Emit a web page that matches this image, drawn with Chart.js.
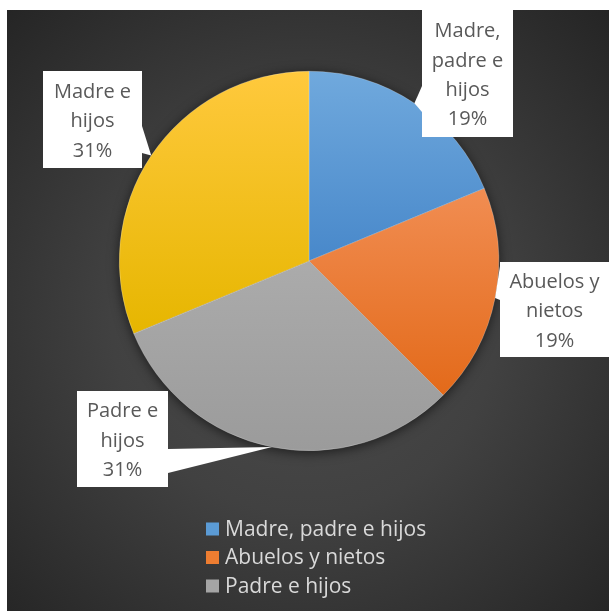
<!DOCTYPE html>
<html lang="es">
<head>
    <meta charset="UTF-8">
    <title>Tipos de hogar</title>
    <script src="https://cdn.jsdelivr.net/npm/chart.js"></script>
    <style>
        html, body { margin: 0; padding: 0; background: #ffffff; overflow: hidden; }
        #wrap { position: relative; width: 609px; height: 611px; }
    </style>
</head>
<body>
<div id="wrap"><canvas id="pieChart" width="609" height="611"></canvas></div>
<script>
    // datos del grafico
    const categories = ['Madre, padre e hijos', 'Abuelos y nietos', 'Padre e hijos', 'Madre e hijos'];
    const householdCounts = [3, 3, 5, 5];
    const sliceTop = ['#70a9dd', '#f18d52', '#ababab', '#ffc93d'];
    const sliceBottom = ['#4888ca', '#e36a1a', '#9b9b9b', '#e6b600'];
    const legendSwatch = ['#5b9bd5', '#ed7d31', '#a5a5a5', '#ffc000'];

    // cajas de las etiquetas (posicion de los recuadros blancos)
    const calloutBoxes = [
        { x: 422, y: 10, w: 91, h: 127, base: [[422, 86], [422, 112]] },
        { x: 500, y: 262, w: 109, h: 95, base: [[500, 266], [500, 300]] },
        { x: 77, y: 391, w: 91, h: 96, base: [[168, 449], [168, 473]] },
        { x: 43, y: 71, w: 99, h: 97, base: [[142, 126], [142, 153]] }
    ];

    const labelFont = '20px "Open Sans"';
    const legendFont = '21px "Open Sans"';

    function sliceGradient(context) {
        const chart = context.chart;
        const area = chart.chartArea;
        const i = context.dataIndex;
        if (!area) return legendSwatch[i];
        const cx = (area.left + area.right) / 2;
        const cy = (area.top + area.bottom) / 2;
        const r = Math.min(area.right - area.left, area.bottom - area.top) / 2;
        const vals = context.dataset.data;
        const total = vals.reduce((a, b) => a + b, 0);
        let start = -Math.PI / 2;
        for (let k = 0; k < i; k++) start += vals[k] / total * 2 * Math.PI;
        const end = start + vals[i] / total * 2 * Math.PI;
        const ys = [cy, cy + r * Math.sin(start), cy + r * Math.sin(end)];
        if (start < Math.PI / 2 && end > Math.PI / 2) ys.push(cy + r);
        const top = Math.min(...ys);
        const bottom = Math.max(...ys);
        const g = chart.ctx.createLinearGradient(0, top, 0, bottom);
        g.addColorStop(0, sliceTop[i]);
        g.addColorStop(1, sliceBottom[i]);
        return g;
    }

    const backgroundPlugin = {
        id: 'fondo',
        beforeDraw(chart) {
            const ctx = chart.ctx;
            ctx.save();
            ctx.fillStyle = '#ffffff';
            ctx.fillRect(0, 0, chart.width, chart.height);
            const g = ctx.createRadialGradient(305, 320, 0, 305, 320, 430);
            g.addColorStop(0, '#4c4c4c');
            g.addColorStop(0.45, '#414141');
            g.addColorStop(1, '#252525');
            ctx.fillStyle = g;
            ctx.fillRect(7, 10, chart.width - 7, chart.height - 10);
            ctx.restore();
        }
    };

    const shadowPlugin = {
        id: 'sombra',
        beforeDatasetsDraw(chart) {
            const arc = chart.getDatasetMeta(0).data[0];
            if (!arc) return;
            const ctx = chart.ctx;
            ctx.save();
            ctx.shadowColor = 'rgba(0, 0, 0, 0.6)';
            ctx.shadowBlur = 12;
            ctx.shadowOffsetY = 2;
            ctx.beginPath();
            ctx.arc(arc.x, arc.y, arc.outerRadius, 0, Math.PI * 2);
            ctx.fillStyle = '#444444';
            ctx.fill();
            ctx.restore();
        }
    };

    function wrapWords(ctx, text, maxWidth) {
        const words = text.split(' ');
        const lines = [];
        let line = '';
        words.forEach(w => {
            const test = line ? line + ' ' + w : w;
            if (line && ctx.measureText(test).width > maxWidth) {
                lines.push(line);
                line = w;
            } else {
                line = test;
            }
        });
        if (line) lines.push(line);
        return lines;
    }

    const calloutPlugin = {
        id: 'etiquetas',
        afterDatasetsDraw(chart) {
            const ctx = chart.ctx;
            const meta = chart.getDatasetMeta(0);
            const vals = chart.data.datasets[0].data;
            const total = vals.reduce((a, b) => a + b, 0);
            ctx.save();
            ctx.font = labelFont;
            meta.data.forEach((arc, i) => {
                const box = calloutBoxes[i];
                const mid = (arc.startAngle + arc.endAngle) / 2;
                const tipX = arc.x + Math.cos(mid) * arc.outerRadius;
                const tipY = arc.y + Math.sin(mid) * arc.outerRadius;

                ctx.fillStyle = '#ffffff';
                ctx.beginPath();
                ctx.moveTo(box.base[0][0], box.base[0][1]);
                ctx.lineTo(tipX, tipY);
                ctx.lineTo(box.base[1][0], box.base[1][1]);
                ctx.closePath();
                ctx.fill();
                ctx.fillRect(box.x, box.y, box.w, box.h);

                const pct = Math.round(vals[i] / total * 100) + '%';
                const lines = wrapWords(ctx, chart.data.labels[i], box.w - 6).concat([pct]);
                const lh = 29.3;
                const y0 = box.y + box.h / 2 - (lines.length - 1) * lh / 2 + 2;
                ctx.fillStyle = '#595959';
                ctx.textAlign = 'center';
                ctx.textBaseline = 'middle';
                lines.forEach((ln, k) => {
                    ctx.fillText(ln, box.x + box.w / 2, y0 + k * lh);
                });
            });
            ctx.restore();
        }
    };

    const legendPlugin = {
        id: 'leyenda',
        afterDraw(chart) {
            const ctx = chart.ctx;
            ctx.save();
            ctx.beginPath();
            ctx.rect(0, 0, chart.width, 605);
            ctx.clip();
            ctx.font = legendFont;
            ctx.textBaseline = 'middle';
            ctx.textAlign = 'left';
            chart.data.labels.forEach((lab, i) => {
                const y = 529 + i * 28.5;
                ctx.fillStyle = legendSwatch[i];
                ctx.fillRect(206, y - 6.5, 13, 13);
                ctx.fillStyle = '#d9d9d9';
                ctx.fillText(lab, 225, y + 1);
            });
            ctx.restore();
        }
    };

    new Chart(document.getElementById('pieChart'), {
        type: 'pie',
        data: {
            labels: categories,
            datasets: [{
                label: 'Hogares',
                data: householdCounts,
                backgroundColor: sliceGradient,
                borderColor: 'rgba(255, 255, 255, 0.45)',
                borderWidth: 0.5
            }]
        },
        options: {
            responsive: false,
            devicePixelRatio: 1,
            animation: false,
            events: [],
            layout: { padding: { left: 119, right: 110, top: 71, bottom: 160 } },
            plugins: {
                legend: { display: false },
                tooltip: { enabled: false }
            }
        },
        plugins: [backgroundPlugin, shadowPlugin, calloutPlugin, legendPlugin]
    });
</script>
</body>
</html>
